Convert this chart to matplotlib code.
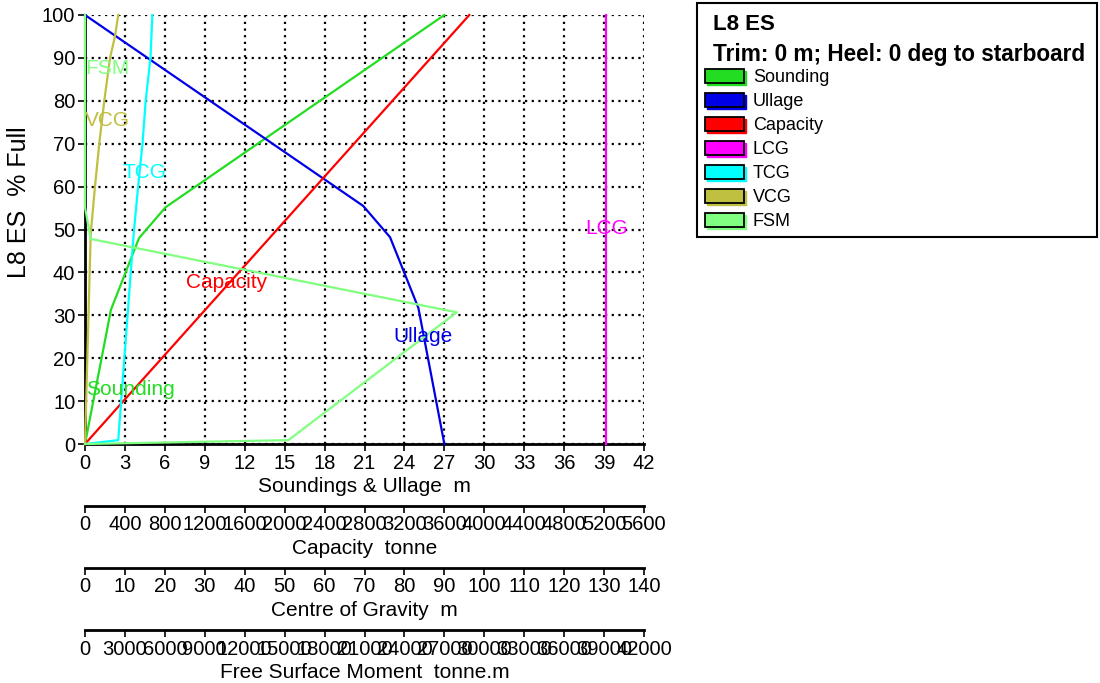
import numpy as np
import matplotlib
matplotlib.use('Agg')
import matplotlib.pyplot as plt
from matplotlib.patches import Rectangle

plt.rcParams['font.family'] = ['Liberation Sans', 'DejaVu Sans']

#%% data (y = % full)
snd_fill = [0, 31.3, 48.0, 55.2, 100]
sounding = [0, 1.95, 4.06, 6.06, 27.0]          # m
ull_fill = [0, 31.7, 48.2, 55.5, 100]
ullage = [27.0, 25.05, 22.92, 20.9, 0]          # m
cap_fill = [0, 10, 20, 30, 40, 50, 60, 70, 80, 90, 100]
capacity = [0, 384, 770, 1155, 1540, 1925, 2310, 2695, 3080, 3465, 3850]  # tonne
lcg_fill = [0, 100]
lcg = [130.5, 130.5]                            # m
tcg_fill = [0, 0.9, 48, 60, 70, 80, 90, 100]
tcg = [0, 8.33, 12.1, 13.3, 14.4, 15.2, 16.4, 16.87]
vcg_fill = [0, 49, 60, 70, 80, 90, 95, 100]
vcg = [0, 1.43, 2.5, 3.57, 4.83, 6.27, 7.5, 8.33]
fsm_fill = [0, 0.9, 30.7, 47.8, 55.2, 100]
fsm = [0, 15280, 27930, 430, 0, 0]              # tonne.m

names = ['Sounding', 'Ullage', 'Capacity', 'LCG', 'TCG', 'VCG', 'FSM']
colors = ['#22dd22', '#0000e6', '#ff0000', '#ff00ff', '#00ffff', '#bfbf40', '#80ff80']

# axis scales (all mapped onto the 0..42 m sounding axis)
SND_MAX = 42.0
CAP_MAX = 5600.0
CG_MAX = 140.0
FSM_MAX = 42000.0

#%%
fig = plt.figure(figsize=(11, 6.83), dpi=100)
ax = fig.add_axes([85/1100, 1-444/683, 559/1100, 429/683])

def to_m(vals, vmax):
    return np.asarray(vals, float) / vmax * SND_MAX

series = [
    (to_m(sounding, SND_MAX), snd_fill),
    (to_m(ullage, SND_MAX), ull_fill),
    (to_m(capacity, CAP_MAX), cap_fill),
    (to_m(lcg, CG_MAX), lcg_fill),
    (to_m(tcg, CG_MAX), tcg_fill),
    (to_m(vcg, CG_MAX), vcg_fill),
    (to_m(fsm, FSM_MAX), fsm_fill),
]
for (xs, ys), c in zip(series, colors):
    ax.plot(xs, ys, color=c, lw=1.6, zorder=3, clip_on=False)

# labels on the curves
lab_pos = {'FSM': (0.0, 87.6), 'VCG': (0.0, 75.5), 'TCG': (2.85, 63.2),
           'Capacity': (7.6, 37.6), 'Ullage': (23.2, 25.0),
           'Sounding': (0.05, 12.6), 'LCG': (37.6, 50.2)}
for n, c in zip(names, colors):
    x, y = lab_pos[n]
    ax.text(x, y, n, color=c, fontsize=15, va='center', ha='left', zorder=4)

ax.set_xlim(0, SND_MAX)
ax.set_ylim(0, 100)
ax.set_xticks(np.arange(0, 43, 3))
ax.set_yticks(np.arange(0, 101, 10))
ax.grid(True, color='black', linestyle=(0, (1, 2)), lw=1.6, zorder=1)
ax.spines['top'].set_visible(False)
ax.spines['right'].set_visible(False)
ax.spines['left'].set_linewidth(2)
ax.spines['bottom'].set_linewidth(2)
ax.tick_params(labelsize=14.5, length=5, width=1.2, pad=2)
ax.set_xlabel('Soundings & Ullage  m', fontsize=15, labelpad=3)
ax.set_ylabel('L8 ES  % Full', fontsize=18)
ax.yaxis.set_label_coords(-0.097, 0.564)

# extra scales below
extra = [(-0.1438, CAP_MAX, 400, 'Capacity  tonne'),
         (-0.2883, CG_MAX, 10, 'Centre of Gravity  m'),
         (-0.4336, FSM_MAX, 3000, 'Free Surface Moment  tonne.m')]
for loc, vmax, step, lab in extra:
    sec = ax.secondary_xaxis(loc, functions=(lambda v, m=vmax: v / SND_MAX * m,
                                             lambda v, m=vmax: v * SND_MAX / m))
    sec.set_xticks(np.arange(0, vmax + step / 2, step))
    sec.xaxis.set_major_formatter(matplotlib.ticker.FormatStrFormatter('%d'))
    sec.spines['bottom'].set_linewidth(2)
    sec.tick_params(labelsize=14.5, length=5, width=1.2, pad=2)
    sec.set_xlabel(lab, fontsize=15, labelpad=3)

#%% legend box
leg = fig.add_axes([0, 0, 1, 1], facecolor='none')
leg.set_xlim(0, 1100)
leg.set_ylim(683, 0)
leg.axis('off')
leg.add_patch(Rectangle((697, 3), 400, 234, fill=False, ec='black', lw=1.5))
leg.text(713, 24, 'L8 ES', fontsize=16, fontweight='bold', va='center')
leg.text(713, 54, 'Trim: 0 m; Heel: 0 deg to starboard', fontsize=16.3,
         fontweight='bold', va='center')
for i, (n, c) in enumerate(zip(names, colors)):
    yc = 77 + i * 24
    leg.add_patch(Rectangle((707, yc - 6), 39, 14, fc=c, ec=c, lw=1))
    leg.add_patch(Rectangle((705, yc - 8), 39, 14, fc=c, ec='black', lw=1.3))
    leg.text(753, yc, n, fontsize=13, va='center')

plt.savefig('out.png', dpi=100)
